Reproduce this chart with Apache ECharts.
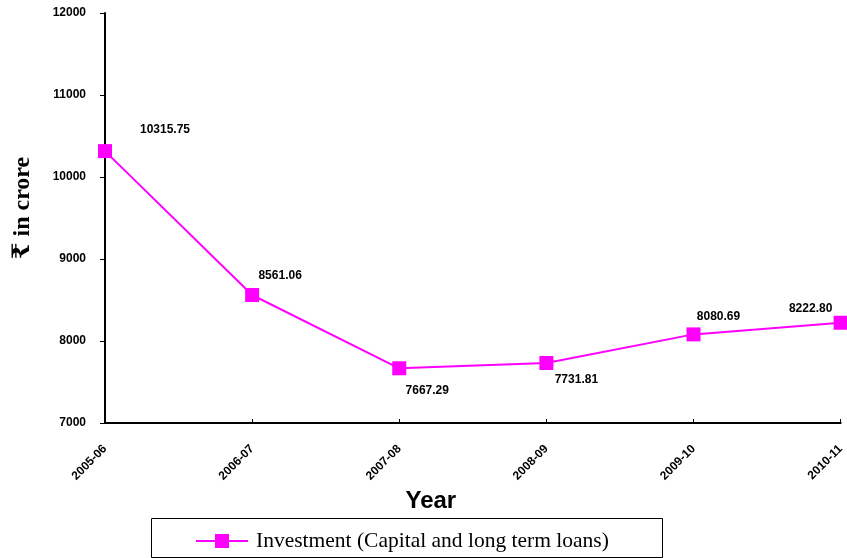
<!DOCTYPE html>
<html>
<head>
<meta charset="utf-8">
<script src="https://cdn.jsdelivr.net/npm/echarts@6/dist/echarts.min.js"></script>
<style>
  html, body { margin: 0; padding: 0; background: #fff; }
  #chart { width: 847px; height: 558px; }
</style>
</head>
<body>
<div id="chart"></div>
<script>
// data
const years = ['2005-06', '2006-07', '2007-08', '2008-09', '2009-10', '2010-11'];
const investment = [10315.75, 8561.06, 7667.29, 7731.81, 8080.69, 8222.80];
const seriesName = 'Investment (Capital and long term loans)';

// label placement per point (offset from the marker)
const labelPlaces = [
    { position: 'top', offset: [60, -3] },
    { position: 'top', offset: [28, -1] },
    { position: 'bottom', offset: [28, 4] },
    { position: 'bottom', offset: [30, -1] },
    { position: 'top', offset: [25, 0] },
    { position: 'top', offset: [-30, 4] }
];

const boldSans = 'Arial, "Liberation Sans", sans-serif';

const chart = echarts.init(document.getElementById('chart'));

const option = {
    animation: false,
    backgroundColor: '#fff',
    grid: { left: 105, right: 2, top: 13, bottom: 135 },
    graphic: [{
        type: 'rect',
        shape: { x: 151.5, y: 518.5, width: 511, height: 39 },
        style: { fill: 'none', stroke: '#000', lineWidth: 1 }
    }],
    legend: {
        top: 530,
        left: 196,
        padding: 0,
        itemGap: 0,
        itemWidth: 52,
        itemHeight: 14,
        textStyle: {
            fontFamily: '"Liberation Serif", serif',
            fontSize: 21.5,
            color: '#000',
            padding: [0, 0, 0, 3]
        },
        data: [{ name: seriesName, icon: 'path://M0,6 L52,6 L52,8 L0,8 Z M19,0 L33,0 L33,14 L19,14 Z' }]
    },
    xAxis: {
        type: 'category',
        data: years,
        boundaryGap: false,
        name: 'Year',
        nameLocation: 'middle',
        nameGap: 63,
        nameTextStyle: { fontFamily: boldSans, fontWeight: 'bold', fontSize: 24, color: '#000', padding: [0, 84, 0, 0] },
        axisLine: { lineStyle: { color: '#000', width: 2 } },
        axisTick: { inside: true, length: 4, lineStyle: { color: '#000' } },
        axisLabel: {
            rotate: 45,
            margin: 24,
            fontFamily: boldSans,
            fontWeight: 'bold',
            fontSize: 12,
            color: '#000'
        },
        splitLine: { show: false }
    },
    yAxis: {
        type: 'value',
        min: 7000,
        max: 12000,
        interval: 1000,
        name: '₹ in crore',
        nameLocation: 'middle',
        nameGap: 70,
        nameTextStyle: { fontFamily: '"Liberation Serif", "DejaVu Serif", serif', fontWeight: 'bold', fontSize: 24, color: '#000', padding: [0, 0, 0, 20] },
        axisLine: { show: true, lineStyle: { color: '#000', width: 2 } },
        axisTick: { show: true, length: 5, lineStyle: { color: '#000' } },
        axisLabel: {
            margin: 19,
            formatter: v => String(v),
            fontFamily: boldSans,
            fontWeight: 'bold',
            fontSize: 12,
            color: '#000'
        },
        splitLine: { show: false }
    },
    series: [{
        name: seriesName,
        type: 'line',
        data: investment.map((v, i) => ({
            value: v,
            label: Object.assign({ show: true }, labelPlaces[i])
        })),
        symbol: 'rect',
        symbolSize: 14,
        itemStyle: { color: '#ff00ff' },
        lineStyle: { color: '#ff00ff', width: 2 },
        label: {
            show: true,
            formatter: p => p.value.toFixed(2),
            fontFamily: boldSans,
            fontWeight: 'bold',
            fontSize: 12,
            color: '#000'
        }
    }]
};

chart.setOption(option);
</script>
</body>
</html>
